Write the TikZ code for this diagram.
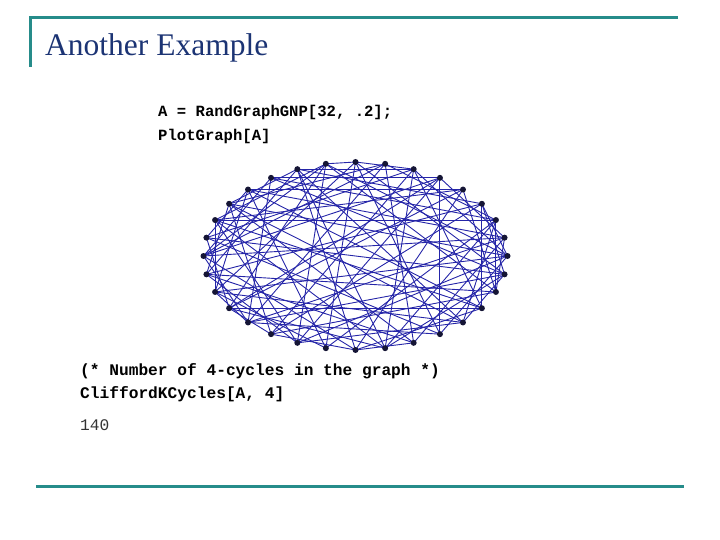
\documentclass[tikz,border=0pt]{standalone}
\usepackage{fontspec}
\setmainfont{Liberation Serif}
\newfontfamily\codefont{Liberation Mono}
\definecolor{teal1}{HTML}{268C8A}
\definecolor{titleblue}{HTML}{1C3474}
\definecolor{edgeblue}{HTML}{2525A8}
\definecolor{vertexcol}{HTML}{151535}
\definecolor{outgray}{HTML}{333333}
\begin{document}
\begin{tikzpicture}[x=1pt,y=-1pt,
  frameline/.style={draw=teal1,line width=3pt},
  vtx/.style={circle,fill=vertexcol,inner sep=0pt,minimum size=6pt},
  gedge/.style={draw=edgeblue,line width=0.9pt},
  codeA/.style={anchor=base west,inner sep=0pt,font=\codefont\bfseries\fontsize{15.6}{18}\selectfont},
  codeB/.style={anchor=base west,inner sep=0pt,font=\codefont\bfseries\fontsize{16.2}{19}\selectfont},
  outtext/.style={anchor=base west,inner sep=0pt,text=outgray,font=\codefont\fontsize{16.2}{19}\selectfont}]
\useasboundingbox (0,0) rectangle (720,540);
% frame
\coordinate (tl) at (30,18);
\coordinate (tr) at (678,18);
\coordinate (lb) at (30,67);
\coordinate (bl) at (36,486.5);
\coordinate (br) at (684,486.5);
\draw[frameline] (tr) -- (tl) -- (lb);
\draw[frameline] (bl) -- (br);
% title
\node[anchor=base west,inner sep=0pt,text=titleblue,font=\fontsize{31.5}{36}\selectfont] (title) at (45,56) {Another Example};
% code
\node[codeA] (c1) at (158,117) {A = RandGraphGNP[32, .2];};
\node[codeA] (c2) at (158,141) {PlotGraph[A]};
\node[codeB] (c3) at (80,375.5) {(* Number of 4-cycles in the graph *)};
\node[codeB] (c4) at (80,398.5) {CliffordKCycles[A, 4]};
\node[outtext] (c5) at (80,430) {140};
% graph vertices
\foreach \k in {0,...,31}{
  \coordinate (p\k) at ({355.5+152*cos(90-\k*11.25)},{256-94*sin(90-\k*11.25)});
}
\foreach \a/\b in {0/31,0/2,0/17,0/9,0/22,
1/27,1/14,1/20,1/6,
2/19,2/11,2/25,2/8,2/30,2/15,
3/13,3/24,3/7,3/29,3/18,
4/28,4/10,4/21,4/16,4/26,
5/11,5/23,5/8,5/30,5/19,5/9,
6/26,6/12,6/17,6/10,6/29,
7/24,7/14,7/20,7/28,7/10,
8/27,8/13,8/22,8/18,
9/25,9/15,9/29,9/12,
10/23,10/31,10/19,
11/26,11/16,11/21,11/28,
12/22,12/30,12/18,
13/25,13/20,
14/16,14/27,14/23,
15/21,15/30,15/26,
16/24,16/19,
17/28,17/22,
18/31,18/23,18/26,
19/27,19/21,
20/29,20/24,20/22,
21/31,21/25,
22/28,22/26,
23/30,23/27,
24/29,24/31,
25/28,26/31,27/30,
0/13,1/24,3/21,6/15,9/20,12/27,16/30,8/31}{
  \draw[gedge] (p\a) -- (p\b);
}
\foreach \k in {0,...,31}{
  \node[vtx] (v\k) at (p\k) {};
}
\end{tikzpicture}
\end{document}
